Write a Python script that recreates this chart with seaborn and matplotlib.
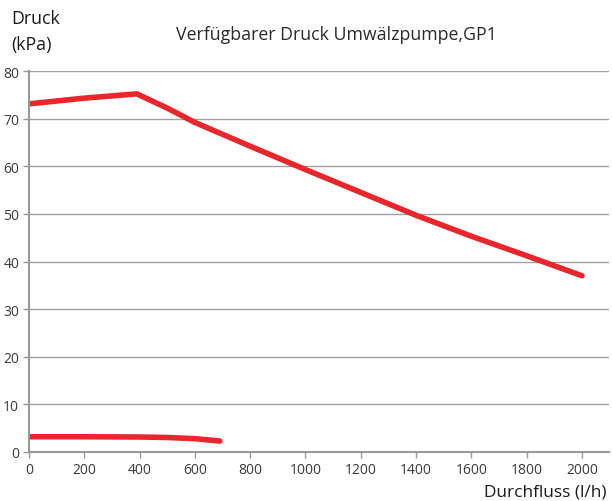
import matplotlib
matplotlib.use("Agg")
import matplotlib.pyplot as plt
import seaborn as sns
import pandas as pd

flow_high = [0, 200, 390, 500, 600, 800, 1000, 1200, 1400, 1600, 1800, 2000]
press_high = [73.1, 74.3, 75.2, 72.2, 69.2, 64.2, 59.3, 54.5, 49.7, 45.3, 41.2, 37.0]
flow_low = [0, 200, 400, 500, 600, 690]
press_low = [3.2, 3.2, 3.15, 3.05, 2.8, 2.3]

title = "Verfügbarer Druck Umwälzpumpe,GP1"
ylabel_lines = ["Druck", "(kPa)"]
xlabel = "Durchfluss (l/h)"
xticks = [0, 200, 400, 600, 800, 1000, 1200, 1400, 1600, 1800, 2000]
yticks = [0, 10, 20, 30, 40, 50, 60, 70, 80]

sns.set_theme(style="white")
plt.rcParams['font.family'] = ['Open Sans', 'DejaVu Sans']

fig = plt.figure(figsize=(6.12, 5.02), dpi=100)
ax = fig.add_axes([29/612, 1 - 453/502, (609-29)/612, (453-72)/502])

red = "#e8262b"
df_h = pd.DataFrame({"x": flow_high, "y": press_high})
df_l = pd.DataFrame({"x": flow_low, "y": press_low})
sns.lineplot(data=df_h, x="x", y="y", ax=ax, color=red, linewidth=4, solid_capstyle="round", solid_joinstyle="round")
sns.lineplot(data=df_l, x="x", y="y", ax=ax, color=red, linewidth=4, solid_capstyle="round", solid_joinstyle="round")

ax.set_xlim(0, 2000 * (609-29) / (582-29))
ax.set_ylim(0, 80)
ax.set_xticks(xticks)
ax.set_yticks(yticks)
ax.set_xlabel("")
ax.set_ylabel("")
ax.yaxis.grid(True, color="#a0a0a0", linewidth=1)
ax.xaxis.grid(False)
for s in ["top", "right"]:
    ax.spines[s].set_visible(False)
for s in ["left", "bottom"]:
    ax.spines[s].set_color("#999999")
    ax.spines[s].set_linewidth(1.5)
ax.tick_params(axis="both", colors="#999999", labelcolor="#3a3a3a", labelsize=10,
               length=4, width=1, direction="out", left=True, bottom=True, pad=3)
ax.set_axisbelow(True)

fig.text(336/612, 1 - 35/502, title, ha="center", va="center", fontsize=12.8, color="#2a2a2a")
fig.text(11/612, 1 - 19/502, ylabel_lines[0], ha="left", va="center", fontsize=12.8, color="#1a1a1a")
fig.text(11/612, 1 - 45/502, ylabel_lines[1], ha="left", va="center", fontsize=12.8, color="#1a1a1a")
fig.text(606/612, 1 - 493/502, xlabel, ha="right", va="center", fontsize=12.4, color="#1a1a1a")

fig.savefig("out.png", dpi=100)
